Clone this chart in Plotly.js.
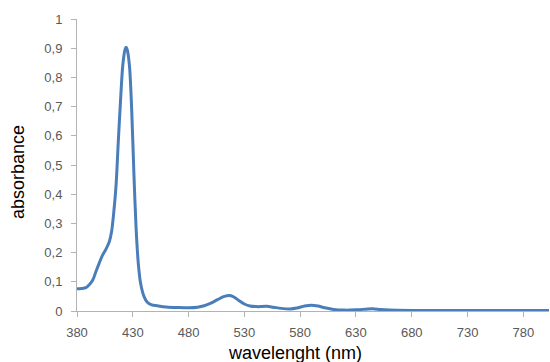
<!DOCTYPE html>
<html>
<head>
<meta charset="utf-8">
<script src="https://cdn.plot.ly/plotly-3.0.1.min.js"></script>
<style>html,body{margin:0;padding:0;background:#fff;}#chart{width:550px;height:362px;}</style>
</head>
<body>
<div id="chart"></div>
<script>
var wavelength = [380,384,388,391,394,397,400,403,406,409,411,413,415,417,419,421,423,424,425,427,429,431,433,435,437,440,443,447,452,460,470,480,488,494,500,506,512,517,521,525,530,535,541,550,556,563,571,577,584,590,596,602,610,620,630,638,645,652,660,680,700,720,740,760,780,803];
var absorbance = [0.076,0.077,0.080,0.090,0.105,0.135,0.165,0.192,0.212,0.238,0.272,0.340,0.430,0.580,0.720,0.840,0.895,0.903,0.895,0.840,0.690,0.470,0.280,0.160,0.095,0.050,0.030,0.021,0.018,0.014,0.012,0.011,0.013,0.018,0.027,0.039,0.050,0.053,0.047,0.036,0.024,0.017,0.015,0.016,0.013,0.009,0.007,0.010,0.017,0.020,0.017,0.011,0.005,0.003,0.004,0.006,0.008,0.005,0.003,0.002,0.002,0.002,0.002,0.002,0.002,0.002];
var xTicks = [380,430,480,530,580,630,680,730,780];
var yTicks = [0,0.1,0.2,0.3,0.4,0.5,0.6,0.7,0.8,0.9,1];
var yTickText = ["0","0,1","0,2","0,3","0,4","0,5","0,6","0,7","0,8","0,9","1"];

var trace = {
  x: wavelength, y: absorbance, type: 'scatter', mode: 'lines',
  line: {color: '#4a7ebb', width: 3, shape: 'spline', smoothing: 0.9},
  hoverinfo: 'skip'
};
var tickFont = {family: 'Liberation Sans, Arial, sans-serif', size: 13, color: '#595959'};
var layout = {
  width: 550, height: 362,
  margin: {l: 77, r: 1, t: 19, b: 51},
  paper_bgcolor: '#fff', plot_bgcolor: '#fff',
  showlegend: false,
  xaxis: {
    range: [380, 803], tickvals: xTicks, ticktext: xTicks.map(String),
    showgrid: false, zeroline: false, showline: true, linecolor: '#b3b3b3', linewidth: 1,
    ticks: 'outside', ticklen: 5, tickcolor: '#b3b3b3', tickfont: tickFont, ticklabelstandoff: 4
  },
  yaxis: {
    range: [0, 1], tickvals: yTicks, ticktext: yTickText,
    showgrid: false, zeroline: false, showline: true, linecolor: '#b3b3b3', linewidth: 1,
    ticks: 'outside', ticklen: 5, tickcolor: '#b3b3b3', tickfont: tickFont, ticklabelstandoff: 6
  },
  annotations: [
    {text: 'wavelenght (nm)', xref: 'paper', yref: 'paper', x: (295-77)/472, y: -(353-311)/292,
     xanchor: 'center', yanchor: 'middle', showarrow: false,
     font: {family: 'Liberation Sans, Arial, sans-serif', size: 18, color: '#000'}},
    {text: 'absorbance', xref: 'paper', yref: 'paper', x: (18-77)/472, y: (311-172)/292,
     xanchor: 'center', yanchor: 'middle', showarrow: false, textangle: -90,
     font: {family: 'Liberation Sans, Arial, sans-serif', size: 18, color: '#000'}}
  ]
};
Plotly.newPlot('chart', [trace], layout, {displayModeBar: false, staticPlot: true});
</script>
</body>
</html>
